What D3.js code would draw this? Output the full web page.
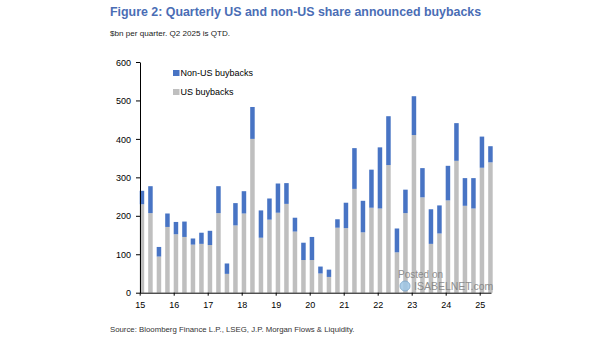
<!DOCTYPE html>
<html lang="en">
<head>
<meta charset="UTF-8">
<title>Quarterly US and non-US share announced buybacks</title>
<script src="https://d3js.org/d3.v7.min.js"></script>
<style>
  body { margin: 0; background: #fff; }
  text { font-family: "Liberation Sans", Arial, sans-serif; }
  .axis text { font-size: 9px; fill: #000; }
  .axis path, .axis line { stroke: #000; }
</style>
</head>
<body>
<svg width="605" height="341"></svg>
<script>
// quarters 2015 Q1 .. 2025 Q2 ($bn)
const quarters = d3.range(42).map(i => (2015 + Math.floor(i / 4)) + " Q" + (i % 4 + 1));
const usBuybacks = [230, 207, 94, 171, 152, 145, 125, 127, 124, 207, 49, 175,
  206, 400, 143, 190, 208, 231, 159, 85, 85, 50, 41, 169,
  168, 270, 157, 221, 219, 332, 105, 207, 410, 248, 127, 154,
  240, 343, 226, 219, 325, 339];
const totalBuybacks = [265, 277, 119, 206, 184, 185, 141, 156, 161, 277, 76, 233,
  264, 483, 214, 245, 284, 285, 195, 130, 145, 68, 60, 191,
  234, 376, 239, 320, 378, 459, 167, 268, 511, 324, 217, 227,
  330, 441, 298, 298, 406, 381];
const nonUsBuybacks = totalBuybacks.map((t, i) => t - usBuybacks[i]);
const years = d3.range(2015, 2026);
const yTicks = [0, 100, 200, 300, 400, 500, 600];

const svg = d3.select("svg");
const blue = "#4874C4", grey = "#BFBFBF";

const x = d3.scaleBand()
  .domain(quarters)
  .range([139.7, 492.7])
  .paddingInner(0.47)
  .paddingOuter(0)
  .align(0);

const y = d3.scaleLinear().domain([0, 600]).range([292.7, 62]);

// year scale for the axis, ticks sit at the start of each Q1 band
const step = x.step() * 4;
const xYear = d3.scaleLinear()
  .domain([2015, 2015 + (491 - x(quarters[0])) / step])
  .range([x(quarters[0]), 491]);

const rows = quarters.map((q, i) => ({ q, us: usBuybacks[i], nonUs: nonUsBuybacks[i] }));

const g = svg.append("g");
g.selectAll(".us").data(rows).enter().append("rect")
  .attr("x", d => x(d.q))
  .attr("width", x.bandwidth())
  .attr("y", d => y(d.us))
  .attr("height", d => y(0) - y(d.us))
  .attr("fill", grey);

g.selectAll(".nonus").data(rows).enter().append("rect")
  .attr("x", d => x(d.q))
  .attr("width", x.bandwidth())
  .attr("y", d => y(d.us + d.nonUs))
  .attr("height", d => y(d.us) - y(d.us + d.nonUs))
  .attr("fill", blue);

// axes
svg.append("g").attr("class", "axis")
  .attr("transform", `translate(140,0)`)
  .call(d3.axisLeft(y).tickValues(yTicks).tickSize(4).tickSizeOuter(0).tickPadding(5))
  .call(a => a.selectAll("text").attr("dy", "0.35em"));

svg.append("g").attr("class", "axis")
  .attr("transform", `translate(0,${y(0)})`)
  .call(d3.axisBottom(xYear).tickValues(years).tickFormat(d => String(d).slice(2))
    .tickSize(3).tickSizeOuter(0).tickPadding(6));

// legend
const legend = svg.append("g").attr("transform", "translate(173,70)");
[["Non-US buybacks", blue], ["US buybacks", grey]].forEach(([label, c], i) => {
  legend.append("rect").attr("x", 0).attr("y", i * 19).attr("width", 6.5).attr("height", 6).attr("fill", c);
  legend.append("text").attr("x", 7.5).attr("y", i * 19 + 3).attr("dy", "0.35em")
    .attr("font-size", 9).attr("fill", "#000").text(label);
});

// titles
svg.append("text").attr("x", 110).attr("y", 15.5)
  .attr("font-size", 12.4).attr("font-weight", "bold").attr("fill", "#4A6DB5")
  .text("Figure 2: Quarterly US and non-US share announced buybacks");
svg.append("text").attr("x", 110).attr("y", 36)
  .attr("font-size", 8.1).attr("fill", "#222")
  .text("$bn per quarter. Q2 2025 is QTD.");
svg.append("text").attr("x", 110).attr("y", 332)
  .attr("font-size", 7.8).attr("fill", "#333")
  .text("Source: Bloomberg Finance L.P., LSEG, J.P. Morgan Flows & Liquidity.");

// watermark
const wm = svg.append("g").attr("opacity", 0.85);
wm.append("text").attr("x", 398).attr("y", 277.5).attr("font-size", 10).attr("fill", "#808080").text("Posted on");
wm.append("circle").attr("cx", 405).attr("cy", 286).attr("r", 5).attr("fill", "#9fc7e6").attr("stroke", "#7aa6cc");
wm.append("text").attr("x", 414).attr("y", 290).attr("font-size", 10.5).attr("fill", "#808080").text("ISABELNET.com");
</script>
</body>
</html>
